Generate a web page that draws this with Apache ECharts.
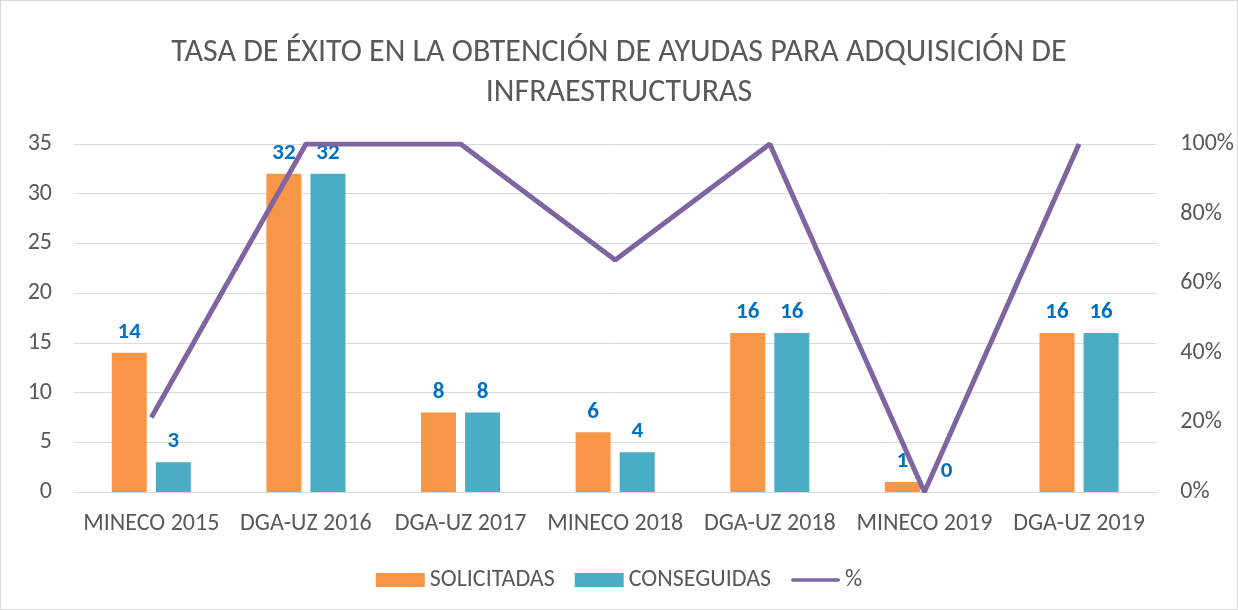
<!DOCTYPE html>
<html>
<head>
<meta charset="utf-8">
<script src="https://cdn.jsdelivr.net/npm/echarts@6/dist/echarts.min.js"></script>
<style>
  html, body { margin: 0; padding: 0; background: #fff; }
  .chart { width: 1238px; height: 610px; box-sizing: border-box; border: 1px solid #d9d9d9; }
</style>
</head>
<body>
<div class="chart"></div>
<script>
// datos
var categorias = ['MINECO 2015', 'DGA-UZ 2016', 'DGA-UZ 2017', 'MINECO 2018', 'DGA-UZ 2018', 'MINECO 2019', 'DGA-UZ 2019'];
var solicitadas = [14, 32, 8, 6, 16, 1, 16];
var conseguidas = [3, 32, 8, 4, 16, 0, 16];
var porcentaje = [0.214, 1, 1, 0.667, 1, 0, 1];

var fuente = "Carlito, 'Liberation Sans Narrow', 'Open Sans', sans-serif";

var chart = echarts.init(document.querySelector('.chart'));

var etiqueta = {
    show: true,
    position: 'top',
    distance: 9,
    color: '#0070C0',
    fontWeight: 'bold',
    fontSize: 23,
    fontFamily: fuente
};

var option = {
    title: {
        text: 'TASA DE ÉXITO EN LA OBTENCIÓN DE AYUDAS PARA ADQUISICIÓN DE\nINFRAESTRUCTURAS',
        left: 'center',
        top: 27,
        textStyle: {
            fontSize: 32,
            fontWeight: 'normal',
            color: '#595959',
            fontFamily: fuente,
            lineHeight: 40
        }
    },
    legend: {
        top: 562,
        left: 'center',
        itemGap: 20,
        itemWidth: 49,
        itemHeight: 14,
        textStyle: { fontSize: 24, color: '#595959', fontFamily: fuente },
        data: [
            { name: 'SOLICITADAS', icon: 'rect' },
            { name: 'CONSEGUIDAS', icon: 'rect' },
            { name: '%', icon: 'path://M2,0 H52 A2,2 0 0 1 52,4 H2 A2,2 0 0 1 2,0 Z' }
        ]
    },
    grid: { left: 73, right: 80, top: 143, bottom: 117 },
    xAxis: {
        type: 'category',
        data: categorias,
        axisLine: { lineStyle: { color: '#d9d9d9' } },
        axisTick: { show: false },
        axisLabel: { interval: 0, fontSize: 24, color: '#595959', fontFamily: fuente, margin: 20 }
    },
    yAxis: [{
        type: 'value',
        min: 0, max: 35, interval: 5,
        axisLabel: { fontSize: 24, color: '#595959', fontFamily: fuente, margin: 22 },
        splitLine: { lineStyle: { color: '#d9d9d9', width: 1 } }
    }, {
        type: 'value',
        min: 0, max: 1, interval: 0.2,
        axisLabel: {
            fontSize: 24, color: '#595959', fontFamily: fuente, margin: 24,
            formatter: function (v) { return Math.round(v * 100) + '%'; }
        },
        splitLine: { show: false }
    }],
    series: [{
        name: 'SOLICITADAS',
        type: 'bar',
        data: solicitadas,
        barWidth: 35,
        barGap: '26%',
        itemStyle: { color: '#F79646' },
        label: etiqueta
    }, {
        name: 'CONSEGUIDAS',
        type: 'bar',
        data: conseguidas,
        barWidth: 35,
        itemStyle: { color: '#4BACC6' },
        label: etiqueta
    }, {
        name: '%',
        type: 'line',
        yAxisIndex: 1,
        data: porcentaje,
        symbol: 'none',
        lineStyle: { color: '#8064A2', width: 5 },
        itemStyle: { color: '#8064A2' },
        z: 2
    }]
};

chart.setOption(option);
</script>
</body>
</html>
